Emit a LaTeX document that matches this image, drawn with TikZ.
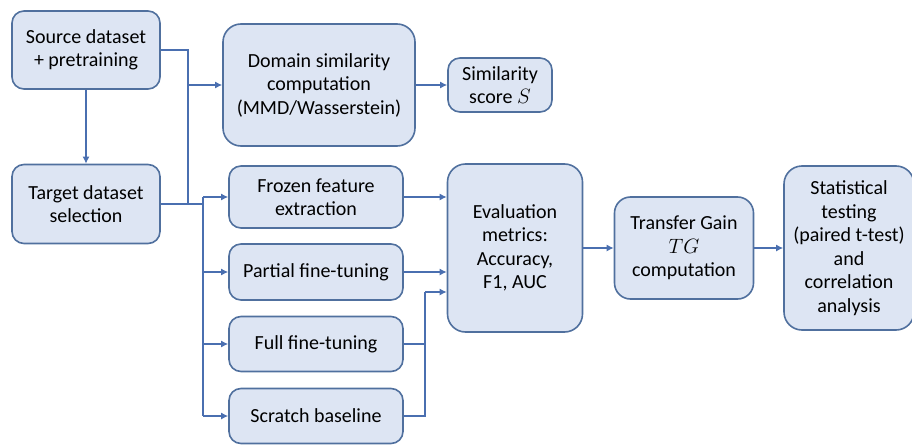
\documentclass[tikz,border=0pt]{standalone}
\usepackage{fontspec}
\setmainfont{Carlito}
\usetikzlibrary{arrows.meta}
\definecolor{boxfill}{HTML}{DDE5F3}
\definecolor{boxline}{HTML}{50709E}
\definecolor{flowline}{HTML}{4A6FB0}
\tikzset{
  box/.style={draw=boxline, fill=boxfill, line width=1.6pt, rounded corners=12pt,
    align=center, inner sep=2pt, font=\fontsize{20}{23.5}\selectfont},
  link/.style={draw=flowline, line width=1.8pt},
  flow/.style={link, -{Latex[length=7pt,width=7pt]}}
}
\begin{document}
\begin{tikzpicture}[x=1pt,y=-1pt]
	\useasboundingbox (0,0) rectangle (912,444);
	% left column
	\node[box, minimum width=148pt, minimum height=78pt] (source) at (86,50) {Source dataset\\+ pretraining};
	\node[box, minimum width=148pt, minimum height=79pt] (target) at (86,204) {Target dataset\\selection};
	% similarity branch
	\node[box, minimum width=192pt, minimum height=122pt, rounded corners=18pt] (domain) at (319,85) {Domain similarity\\computation\\(MMD/Wasserstein)};
	\node[box, minimum width=104pt, minimum height=54pt] (sim) at (500,85) {Similarity\\score $S$};
	% training regimes
	\node[box, minimum width=174pt, minimum height=62pt] (frozen) at (316,197) {Frozen feature\\extraction};
	\node[box, minimum width=174pt, minimum height=56pt] (partial) at (316,272) {Partial fine-tuning};
	\node[box, minimum width=174pt, minimum height=55pt] (full) at (316,344) {Full fine-tuning};
	\node[box, minimum width=174pt, minimum height=55pt] (scratch) at (316,416) {Scratch baseline};
	% right part
	\node[box, minimum width=135pt, minimum height=168pt, rounded corners=18pt] (eval) at (515,248) {Evaluation\\metrics:\\Accuracy,\\F1, AUC};
	\node[box, minimum width=139pt, minimum height=102pt, rounded corners=16pt] (tg) at (684,248) {Transfer Gain\\$TG$\\computation};
	\node[box, minimum width=130pt, minimum height=164pt, rounded corners=18pt] (stat) at (849,248) {Statistical\\testing\\(paired t-test)\\and\\correlation\\analysis};

	% buses
	\coordinate (sx) at (188,0);
	\coordinate (tx) at (203,0);
	\coordinate (mrg) at (425,292);

	\draw[flow] (source) -- (target);
	\draw[link] (source.east) -| (sx |- target.east);
	\draw[flow] (sx |- domain.west) -- (domain.west);
	\draw[flow] (domain) -- (sim);

	\draw[link] (target.east) -- (tx |- target.east);
	\draw[link] (tx |- frozen.west) -- (tx |- scratch.west);
	\draw[flow] (tx |- frozen.west) -- (frozen.west);
	\draw[flow] (tx |- partial.west) -- (partial.west);
	\draw[flow] (tx |- full.west) -- (full.west);
	\draw[flow] (tx |- scratch.west) -- (scratch.west);

	\draw[flow] (frozen.east) -- (eval.west |- frozen.east);
	\draw[flow] (partial.east) -- (eval.west |- partial.east);
	\draw[link] (full.east) -- (mrg |- full.east);
	\draw[link] (scratch.east) -| (mrg);
	\draw[flow] (mrg) -- (mrg -| eval.west);

	\draw[flow] (eval) -- (tg);
	\draw[flow] (tg) -- (stat);
\end{tikzpicture}
\end{document}
